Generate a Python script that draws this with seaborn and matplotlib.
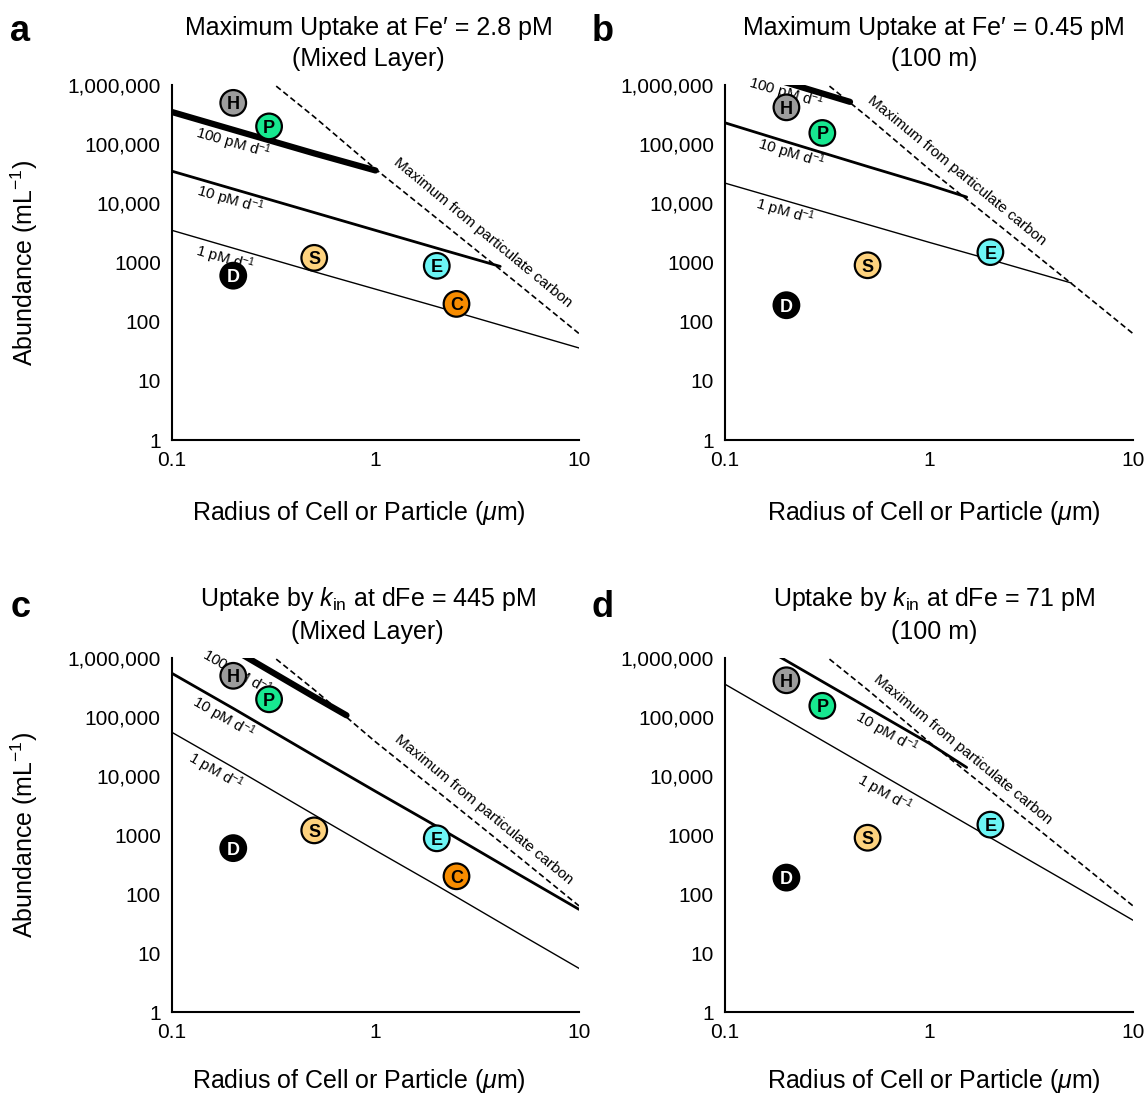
import matplotlib
matplotlib.use("Agg")
import matplotlib.pyplot as plt
import numpy as np
import pandas as pd
import seaborn as sns
from matplotlib.ticker import FixedLocator, FixedFormatter, NullLocator

sns.set_style("white")
plt.rcParams['font.family'] = ['Liberation Sans', 'DejaVu Sans']
plt.rcParams['mathtext.fontset'] = 'custom'
plt.rcParams['mathtext.rm'] = 'Liberation Sans'
plt.rcParams['mathtext.it'] = 'Liberation Sans:italic'
plt.rcParams['mathtext.bf'] = 'Liberation Sans:bold'
plt.rcParams['text.color'] = 'black'
plt.rcParams['axes.labelcolor'] = 'black'
plt.rcParams['xtick.color'] = 'black'
plt.rcParams['ytick.color'] = 'black'

# 坐标轴刻度
x_ticks = [0.1, 1, 10]
x_tick_labels = ['0.1', '1', '10']
y_ticks = [1, 10, 100, 1000, 1e4, 1e5, 1e6]
y_tick_labels = ['1', '10', '100', '1000', '10,000', '100,000', '1,000,000']

# 颗粒碳上限（虚线，四幅图相同）
carbon_x = [0.3, 0.5, 1, 2, 5, 10]
carbon_y = [1.2e6, 2.9e5, 38000, 5600, 440, 63]

# 各图的吸收速率线
a_1pm_x = [0.1, 0.2, 0.5, 1, 2, 5, 10]
a_1pm_y = [3500, 1750, 700, 355, 180, 72, 36]
a_10pm_x = [0.1, 0.2, 0.5, 1, 2, 4.1]
a_10pm_y = [35000, 17500, 7000, 3500, 1750, 860]
a_100pm_x = [0.1, 0.2, 0.5, 1.0]
a_100pm_y = [350000, 175000, 70000, 36000]

b_1pm_x = [0.1, 0.2, 0.5, 1, 2, 5]
b_1pm_y = [22000, 11000, 4400, 2200, 1120, 450]
b_10pm_x = [0.1, 0.2, 0.5, 1, 1.53]
b_10pm_y = [230000, 110000, 42000, 20500, 12800]
b_100pm_x = [0.1, 0.2, 0.41]
b_100pm_y = [2300000, 1100000, 520000]

c_1pm_x = [0.1, 0.2, 0.5, 1, 2, 5, 10]
c_1pm_y = [55000, 14000, 2200, 550, 140, 22, 5.5]
c_10pm_x = [0.1, 0.2, 0.5, 1, 2, 5, 10]
c_10pm_y = [550000, 140000, 22000, 5500, 1400, 220, 55]
c_100pm_x = [0.1, 0.2, 0.5, 0.72]
c_100pm_y = [5.5e6, 1.4e6, 2.2e5, 1.07e5]

d_1pm_x = [0.1, 0.2, 0.5, 1, 2, 5, 10]
d_1pm_y = [360000, 90000, 14400, 3600, 900, 145, 36]
d_10pm_x = [0.1, 0.2, 0.5, 1, 1.53]
d_10pm_y = [3.6e6, 9e5, 1.44e5, 36000, 14000]

# 生物类群
ml_names = ['H', 'P', 'S', 'D', 'E', 'C']
ml_radius = [0.2, 0.3, 0.5, 0.2, 2, 2.5]
ml_abund = [5e5, 2e5, 1200, 600, 880, 200]
deep_names = ['H', 'P', 'S', 'D', 'E']
deep_radius = [0.2, 0.3, 0.5, 0.2, 2]
deep_abund = [4.2e5, 1.55e5, 900, 190, 1500]

fill_colors = {'H': '#9c9c9c', 'P': '#17e890', 'S': '#fdd27e',
               'D': '#000000', 'E': '#6cf5f5', 'C': '#f78c00'}
text_colors = {'H': 'black', 'P': 'black', 'S': 'black',
               'D': 'white', 'E': 'black', 'C': 'black'}

panels = [
    dict(letter='a', letter_xy=(0.009, 0.971), xlabel_y=-0.165,
         title='Maximum Uptake at Fe\u2032 = 2.8 pM\n(Mixed Layer)', title_x=0.483, xlabel_x=0.458,
         rect=[0.1502, 0.5985, 0.3555, 0.3239],
         lines=[(a_1pm_x, a_1pm_y, 1.0), (a_10pm_x, a_10pm_y, 2.0), (a_100pm_x, a_100pm_y, 4.5)],
         labels=[('100 pM d$^{-1}$', 0.2, 1.04e5, -16), ('10 pM d$^{-1}$', 0.193, 11300, -16),
                 ('1 pM d$^{-1}$', 0.182, 1140, -16)],
         carbon_label=(3.37, 3150),
         pts=(ml_names, ml_radius, ml_abund), ylabel=True),
    dict(letter='b', letter_xy=(0.517, 0.971), xlabel_y=-0.165,
         title='Maximum Uptake at Fe\u2032 = 0.45 pM\n(100 m)', title_x=0.512, xlabel_x=0.513,
         rect=[0.6332, 0.5985, 0.3563, 0.3239],
         lines=[(b_1pm_x, b_1pm_y, 1.0), (b_10pm_x, b_10pm_y, 2.0), (b_100pm_x, b_100pm_y, 4.5)],
         labels=[('100 pM d$^{-1}$', 0.2, 7.4e5, -16), ('10 pM d$^{-1}$', 0.21, 69000, -17),
                 ('1 pM d$^{-1}$', 0.197, 7200, -16)],
         carbon_label=(1.37, 36000),
         pts=(deep_names, deep_radius, deep_abund), ylabel=False),
    dict(letter='c', letter_xy=(0.009, 0.446), xlabel_y=-0.155,
         title='Uptake by $k_{\\mathrm{in}}$ at dFe = 445 pM\n(Mixed Layer)', title_x=0.481, xlabel_x=0.458,
         rect=[0.1502, 0.0766, 0.3555, 0.3230],
         lines=[(c_1pm_x, c_1pm_y, 1.0), (c_10pm_x, c_10pm_y, 2.0), (c_100pm_x, c_100pm_y, 4.5)],
         labels=[('100 pM d$^{-1}$', 0.208, 5.5e5, -30), ('10 pM d$^{-1}$', 0.179, 95000, -30),
                 ('1 pM d$^{-1}$', 0.163, 11800, -30)],
         carbon_label=(3.39, 2650),
         pts=(ml_names, ml_radius, ml_abund), ylabel=True),
    dict(letter='d', letter_xy=(0.517, 0.446), xlabel_y=-0.155,
         title='Uptake by $k_{\\mathrm{in}}$ at dFe = 71 pM\n(100 m)', title_x=0.513, xlabel_x=0.513,
         rect=[0.6332, 0.0766, 0.3563, 0.3230],
         lines=[(d_1pm_x, d_1pm_y, 1.0), (d_10pm_x, d_10pm_y, 2.0)],
         labels=[('10 pM d$^{-1}$', 0.62, 53000, -30), ('1 pM d$^{-1}$', 0.608, 5100, -30)],
         carbon_label=(1.47, 27600),
         pts=(deep_names, deep_radius, deep_abund), ylabel=False),
]

fig = plt.figure(figsize=(11.45, 10.96), dpi=100)

for p in panels:
    ax = fig.add_axes(p['rect'])
    ax.set_xscale('log')
    ax.set_yscale('log')

    # 速率线
    for xs, ys, lw in p['lines']:
        sns.lineplot(x=xs, y=ys, ax=ax, color='black', linewidth=lw,
                     estimator=None, sort=False, solid_capstyle='round', zorder=2)
    # 颗粒碳上限
    sns.lineplot(x=carbon_x, y=carbon_y, ax=ax, color='black', linewidth=1.2,
                 estimator=None, sort=False, zorder=2)
    ax.lines[-1].set_dashes([3.5, 2])

    for txt, lx, ly, rot in p['labels']:
        ax.text(lx, ly, txt, fontsize=11, rotation=rot, ha='center', va='center',
                rotation_mode='anchor', zorder=3)
    cx, cy = p['carbon_label']
    ax.text(cx, cy, 'Maximum from particulate carbon', fontsize=11, rotation=-39.5,
            ha='center', va='center', rotation_mode='anchor', zorder=3)

    # 类群圆点
    names, rad, ab = p['pts']
    df = pd.DataFrame({'name': names, 'radius': rad, 'abund': ab})
    sns.scatterplot(data=df, x='radius', y='abund', hue='name', palette=fill_colors,
                    s=340, edgecolor='black', linewidth=1.6, legend=False, ax=ax, zorder=4,
                    clip_on=False)
    for n, xr, ya in zip(names, rad, ab):
        ax.text(xr, ya, n, fontsize=13, fontweight='bold', color=text_colors[n],
                ha='center', va='center_baseline', zorder=5)

    ax.set_xlim(0.1, 10)
    ax.set_ylim(1, 1e6)
    ax.xaxis.set_major_locator(FixedLocator(x_ticks))
    ax.xaxis.set_major_formatter(FixedFormatter(x_tick_labels))
    ax.yaxis.set_major_locator(FixedLocator(y_ticks))
    ax.yaxis.set_major_formatter(FixedFormatter(y_tick_labels))
    ax.xaxis.set_minor_locator(NullLocator())
    ax.yaxis.set_minor_locator(NullLocator())
    ax.tick_params(axis='both', direction='out', length=5, width=1.3, labelsize=15,
                   color='black', labelcolor='black', pad=3)
    for s in ['top', 'right']:
        ax.spines[s].set_visible(False)
    for s in ['left', 'bottom']:
        ax.spines[s].set_linewidth(1.5)
        ax.spines[s].set_color('black')

    ax.set_xlabel('Radius of Cell or Particle ($\\mu$m)', fontsize=18, labelpad=20)
    ax.xaxis.set_label_coords(p['xlabel_x'], p['xlabel_y'])
    if p['ylabel']:
        ax.set_ylabel('Abundance (mL$^{-1}$)', fontsize=18, labelpad=20)
    else:
        ax.set_ylabel('')
    ax.set_title(p['title'], fontsize=18, pad=14, linespacing=1.35, x=p['title_x'])

    fig.text(p['letter_xy'][0], p['letter_xy'][1], p['letter'], fontsize=26,
             fontweight='bold', ha='left', va='center')

fig.savefig('out.png', dpi=100)
